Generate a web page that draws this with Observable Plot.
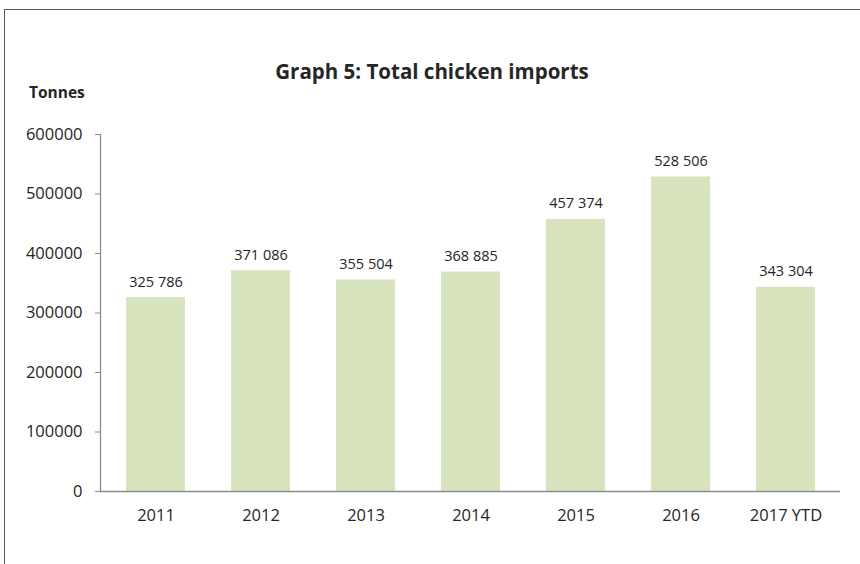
<!DOCTYPE html>
<html>
<head>
<meta charset="utf-8">
<script src="https://cdn.jsdelivr.net/npm/d3@7"></script>
<script src="https://cdn.jsdelivr.net/npm/@observablehq/plot@0.6"></script>
<style>
  html, body { margin: 0; padding: 0; background: #fff; overflow: hidden; width: 860px; height: 564px; }
  #wrap { position: relative; width: 860px; height: 564px; font-family: "Open Sans", sans-serif; }
  #border { position: absolute; left: 4px; top: 9px; width: 900px; height: 600px; border: 1px solid #595959; box-sizing: border-box; }
  #title { position: absolute; left: 0; width: 864px; top: 58px; text-align: center; font-weight: 700; font-size: 20.5px; line-height: 26px; color: #262626; }
  #unit { position: absolute; left: 29px; top: 82px; font-weight: 700; font-size: 15.5px; line-height: 20px; color: #262626; }
  #chart { position: absolute; left: 0; top: 0; }
</style>
</head>
<body>
<div id="wrap">
  <div id="border"></div>
  <div id="title">Graph 5: Total chicken imports</div>
  <div id="unit">Tonnes</div>
  <div id="chart"></div>
</div>
<script>
const years = ["2011", "2012", "2013", "2014", "2015", "2016", "2017 YTD"];
const tonnes = [325786, 371086, 355504, 368885, 457374, 528506, 343304];
const yTicks = [0, 100000, 200000, 300000, 400000, 500000, 600000];

const data = years.map((year, i) => ({year, value: tonnes[i]}));
const spaced = d3.formatLocale({decimal: ".", thousands: " ", grouping: [3], currency: ["", ""]}).format(",d");

const chart = Plot.plot({
  width: 860,
  height: 564,
  marginLeft: 100,
  marginRight: 20,
  marginTop: 134,
  marginBottom: 73,
  style: {fontFamily: "'Open Sans', sans-serif", background: "transparent", overflow: "visible"},
  x: {domain: years, paddingInner: 0.44, paddingOuter: 0.22, label: null},
  y: {domain: [0, 600000], label: null},
  marks: [
    Plot.barY(data, {x: "year", y: "value", fill: "#d7e4bd"}),
    Plot.ruleY([0], {stroke: "#8c8c8c", strokeWidth: 1.3}),
    Plot.frame({anchor: "left", stroke: "#8c8c8c", strokeWidth: 1.3}),
    Plot.axisY(yTicks, {tickFormat: d3.format("d"), tickSize: 5, tickPadding: 13, stroke: "#8c8c8c", fill: "#262626", fontSize: 16.5, label: null}),
    Plot.axisX({tickSize: 0, tickPadding: 18, fill: "#262626", fontSize: 16.5, label: null}),
    Plot.text(data, {x: "year", y: "value", text: d => spaced(d.value), dy: -11, lineAnchor: "bottom", fontSize: 14.5, fill: "#262626"})
  ]
});
document.getElementById("chart").appendChild(chart);
</script>
</body>
</html>
